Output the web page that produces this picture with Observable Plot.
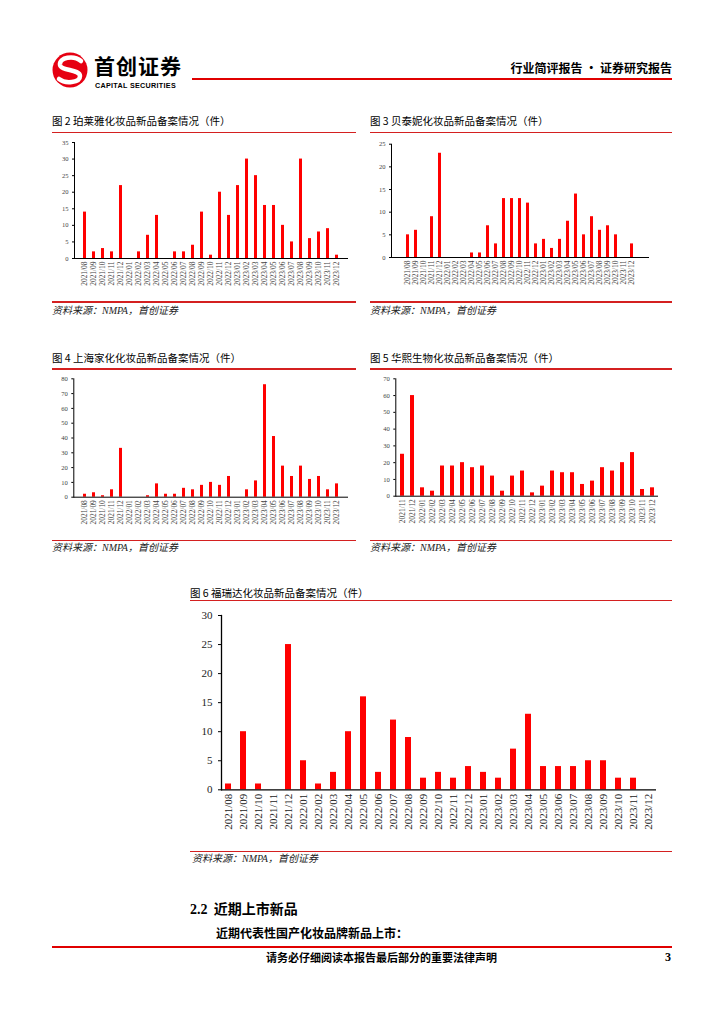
<!DOCTYPE html>
<html><head><meta charset="utf-8">
<script src="https://cdn.jsdelivr.net/npm/d3@7"></script>
<script src="https://cdn.jsdelivr.net/npm/@observablehq/plot@0.6"></script>
<style>
body{margin:0;background:#fff;}
#page{position:relative;width:724px;height:1024px;overflow:hidden;font-family:"Noto Sans CJK SC",sans-serif;color:#000;}
.abs{position:absolute;white-space:nowrap;}
.title{font-size:10.5px;line-height:12px;}
.rule{position:absolute;height:1.5px;background:#d42020;}
.src{font-size:10px;line-height:12px;font-style:italic;color:#222;}
.src .lat{font-family:"Liberation Serif",serif;}
</style></head>
<body><div id="page">
  <svg class="abs" style="left:50px;top:50px" width="40" height="40" viewBox="0 0 40 40">
    <circle cx="20" cy="20" r="17.5" fill="#e60012"/>
    <path d="M31 11 C24 5,9 7,10 15 C11 21,30 19,30 26 C30 33,15 34,9 29" fill="none" stroke="#fff" stroke-width="4.5" stroke-linecap="round"/>
  </svg>
  <div class="abs" style="left:94px;top:55px;font-size:21px;line-height:21px;font-weight:700;letter-spacing:1px">首创证券</div>
  <div class="abs" style="left:95px;top:81.5px;font-family:'Liberation Sans',Arial,sans-serif;font-size:7.2px;line-height:8px;font-weight:700;letter-spacing:0.3px">CAPITAL SECURITIES</div>
  <div class="rule" style="left:192px;top:77.5px;width:480px;height:2px;background:#e00000"></div>
  <div class="abs" style="right:52px;top:60px;font-size:12px;line-height:15px;font-weight:700">行业简评报告 · 证券研究报告</div>

  <div class="abs title" style="left:52px;top:115px">图 2 珀莱雅化妆品新品备案情况（件）</div>
  <div class="rule" style="left:52px;top:131.5px;width:304px"></div>
  <div class="abs title" style="left:370px;top:115px">图 3 贝泰妮化妆品新品备案情况（件）</div>
  <div class="rule" style="left:370px;top:131.5px;width:302px"></div>
  <div id="c2" class="abs" style="left:40px;top:135px"></div>
  <div id="c3" class="abs" style="left:360px;top:135px"></div>
  <div class="rule" style="left:52px;top:301px;width:304px"></div>
  <div class="rule" style="left:370px;top:301px;width:302px"></div>
  <div class="abs src" style="left:52px;top:304px">资料来源：<span class="lat">NMPA</span>，首创证券</div>
  <div class="abs src" style="left:370px;top:304px">资料来源：<span class="lat">NMPA</span>，首创证券</div>

  <div class="abs title" style="left:52px;top:352px">图 4 上海家化化妆品新品备案情况（件）</div>
  <div class="rule" style="left:52px;top:368px;width:304px"></div>
  <div class="abs title" style="left:370px;top:352px">图 5 华熙生物化妆品新品备案情况（件）</div>
  <div class="rule" style="left:370px;top:368px;width:302px"></div>
  <div id="c4" class="abs" style="left:40px;top:372px"></div>
  <div id="c5" class="abs" style="left:360px;top:372px"></div>
  <div class="rule" style="left:52px;top:539.5px;width:304px"></div>
  <div class="rule" style="left:370px;top:539.5px;width:302px"></div>
  <div class="abs src" style="left:52px;top:541px">资料来源：<span class="lat">NMPA</span>，首创证券</div>
  <div class="abs src" style="left:370px;top:541px">资料来源：<span class="lat">NMPA</span>，首创证券</div>

  <div class="abs title" style="left:190px;top:587px">图 6 福瑞达化妆品新品备案情况（件）</div>
  <div class="rule" style="left:190px;top:599.5px;width:482px"></div>
  <div id="c6" class="abs" style="left:180px;top:605px"></div>
  <div class="rule" style="left:190px;top:850.5px;width:482px"></div>
  <div class="abs src" style="left:192px;top:852px">资料来源：<span class="lat">NMPA</span>，首创证券</div>

  <div class="abs" style="left:190px;top:899px;font-size:14px;line-height:18px;font-weight:700"><span style="font-family:'Liberation Serif',serif">2.2</span>&nbsp; 近期上市新品</div>
  <div class="abs" style="left:216px;top:926px;font-size:12px;line-height:14px;font-weight:700">近期代表性国产化妆品牌新品上市：</div>
  <div class="rule" style="left:52px;top:945.5px;width:620px;height:2px;background:#e00000"></div>
  <div class="abs" style="left:266px;top:950px;font-size:11px;line-height:14px;font-weight:700">请务必仔细阅读本报告最后部分的重要法律声明</div>
  <div class="abs" style="left:665px;top:950px;font-family:'Liberation Serif',serif;font-size:12px;line-height:14px;font-weight:700">3</div>
</div>
<script>
// Tick labels (months)
const months29 = ["2021/08","2021/09","2021/10","2021/11","2021/12","2022/01","2022/02","2022/03","2022/04","2022/05","2022/06","2022/07","2022/08","2022/09","2022/10","2022/11","2022/12","2023/01","2023/02","2023/03","2023/04","2023/05","2023/06","2023/07","2023/08","2023/09","2023/10","2023/11","2023/12"];
const months26 = ["2021/11","2021/12","2022/01","2022/02","2022/03","2022/04","2022/05","2022/06","2022/07","2022/08","2022/09","2022/10","2022/11","2022/12","2023/01","2023/02","2023/03","2023/04","2023/05","2023/06","2023/07","2023/08","2023/09","2023/10","2023/11","2023/12"];

// Series values (件)
const proyaValues   = [14,2,3,2,22,0,2,7,13,0,2,2,4,14,1,20,13,22,30,25,16,16,10,5,30,6,8,9,1];
const botanValues   = [5,6,0,9,23,0,0,0,1,1,7,3,13,13,13,12,3,4,2,4,8,14,5,9,6,7,5,0,3];
const jahwaValues   = [2,3,1,5,33,0,0,1,9,2,2,6,5,8,10,8,14,0,5,11,76,41,21,14,21,12,14,5,9];
const bloomageValues= [25,60,5,3,18,18,20,17,18,12,3,12,15,2,6,15,14,14,7,9,17,15,20,26,4,5];
const fredaValues   = [1,10,1,0,25,5,1,3,10,16,3,12,9,2,3,2,4,3,2,7,13,4,4,4,5,5,2,2,0];

// Y tick labels
const yTicks2 = [0,5,10,15,20,25,30,35];
const yTicks3 = [0,5,10,15,20,25];
const yTicks4 = [0,10,20,30,40,50,60,70,80];
const yTicks5 = [0,10,20,30,40,50,60,70];
const yTicks6 = [0,5,10,15,20,25,30];

function barChart(id, labels, values, yTicks, o) {
  const data = labels.map((m, i) => ({m, v: values[i]}));
  const chart = Plot.plot({
    width: o.width, height: o.height,
    marginLeft: o.ml, marginRight: o.mr, marginTop: o.mt, marginBottom: o.mb,
    style: {fontFamily: "'Liberation Serif', 'Times New Roman', serif", background: "transparent", overflow: "visible"},
    x: {type: "band", domain: labels, paddingInner: o.pad, paddingOuter: o.pad / 2, axis: null},
    y: {domain: [yTicks[0], yTicks[yTicks.length - 1]], axis: null},
    marks: [
      Plot.barY(data, {x: "m", y: "v", fill: "#ff0000"}),
      Plot.ruleY([0], {stroke: "#000", strokeWidth: o.lw}),
      Plot.frame({anchor: "left", stroke: "#000", strokeWidth: o.lw}),
      Plot.axisY({ticks: yTicks, tickSize: o.yts, tickPadding: o.ytp, fontSize: o.yfs, fill: o.color, stroke: "#000", label: null}),
      Plot.axisX({tickRotate: -90, tickSize: 0, tickPadding: o.xtp, fontSize: o.xfs, fill: o.color, label: null})
    ]
  });
  document.getElementById(id).appendChild(chart);
}

const small = {width: 315, height: 165, pad: 0.62, lw: 1, yts: 2, ytp: 4, yfs: 6.6, xfs: 7.4, xtp: 3, color: "#444"};
barChart("c2", months29, proyaValues, yTicks2, {...small, ml: 34, mr: 7, mt: 7, mb: 42});
barChart("c3", months29, botanValues, yTicks3, {...small, ml: 31, mr: 26, mt: 8.7, mb: 43});
barChart("c4", months29, jahwaValues, yTicks4, {...small, ml: 33.3, mr: 7, mt: 6.3, mb: 40.3});
barChart("c5", months26, bloomageValues, yTicks5, {...small, ml: 35.3, mr: 17, mt: 6.3, mb: 41.3});
barChart("c6", months29, fredaValues, yTicks6, {width: 495, height: 240, ml: 41, mr: 19, mt: 10, mb: 55.7, pad: 0.58, lw: 1.3, yts: 3, ytp: 6, yfs: 11, xfs: 11, xtp: 4, color: "#222"});
</script>
</body></html>
